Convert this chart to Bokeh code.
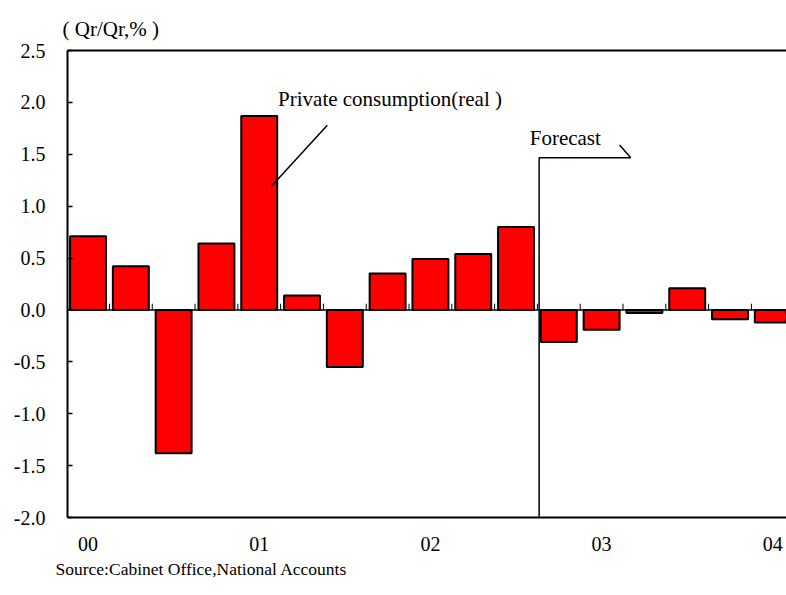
from bokeh.plotting import figure
from bokeh.models import Range1d, FixedTicker, LinearAxis, Span, Label, Title
from bokeh.embed import file_html
from bokeh.resources import INLINE

# Quarterly change in real private consumption (quarter on quarter, %)
quarters = list(range(17))
growth = [0.71, 0.42, -1.38, 0.64, 1.87, 0.14, -0.55, 0.35, 0.49, 0.54, 0.80,
          -0.31, -0.19, -0.03, 0.21, -0.09, -0.12]
year_ticks = [0, 4, 8, 12, 16]
year_labels = ["00", "01", "02", "03", "04"]
y_ticks = [-2.0, -1.5, -1.0, -0.5, 0.0, 0.5, 1.0, 1.5, 2.0, 2.5]

# Annotation geometry (data units)
series_leader_x = [5.59, 4.28]
series_leader_y = [1.78, 1.19]
forecast_x = [10.54, 10.54, 12.68, 12.42]
forecast_y = [-2.0, 1.467, 1.467, 1.59]

FONT = "Liberation Serif"
TICK_SIZE = "20px"

p = figure(width=786, height=595,
           x_range=Range1d(-0.48, 16.32), y_range=Range1d(-2.0, 2.5),
           x_axis_type=None, y_axis_type=None,
           output_backend="svg", toolbar_location=None,
           min_border_left=67, min_border_right=0,
           min_border_top=50, min_border_bottom=78)
p.grid.visible = False
p.outline_line_color = None
p.background_fill_color = "white"
p.border_fill_color = "white"

# Left value axis with short inward ticks
yaxis = LinearAxis(ticker=FixedTicker(ticks=y_ticks))
yaxis.major_label_overrides = {t: f"{t:.1f}" for t in y_ticks}
yaxis.major_tick_in = 5
yaxis.major_tick_out = 0
yaxis.minor_tick_line_color = None
yaxis.axis_line_width = 2
yaxis.major_tick_line_width = 1.5
yaxis.major_label_text_font = FONT
yaxis.major_label_text_font_size = TICK_SIZE
yaxis.major_label_text_color = "black"
yaxis.major_label_standoff = 22
p.add_layout(yaxis, "left")

# Bottom axis with year labels
xaxis = LinearAxis(ticker=FixedTicker(ticks=year_ticks))
xaxis.major_label_overrides = dict(zip(year_ticks, year_labels))
xaxis.major_tick_line_color = None
xaxis.minor_tick_line_color = None
xaxis.axis_line_width = 2
xaxis.major_label_text_font = FONT
xaxis.major_label_text_font_size = TICK_SIZE
xaxis.major_label_text_color = "black"
xaxis.major_label_standoff = 13
p.add_layout(xaxis, "below")

# Top frame line (bare axis, no ticks or labels)
top = LinearAxis(ticker=FixedTicker(ticks=[]))
top.major_tick_line_color = None
top.minor_tick_line_color = None
top.major_tick_in = 0
top.major_tick_out = 0
top.minor_tick_in = 0
top.minor_tick_out = 0
top.major_label_standoff = 0
top.major_label_text_font_size = "0px"
top.axis_line_width = 2
p.add_layout(top, "above")

# Unit note above the frame, source note below the axis
p.add_layout(Title(text="( Qr/Qr,% )", align="left", offset=-5, standoff=20,
                   text_font=FONT, text_font_size="21px", text_font_style="normal",
                   text_color="black"), "above")
p.add_layout(Title(text="Source:Cabinet Office,National Accounts", align="left",
                   offset=-12, standoff=7,
                   text_font=FONT, text_font_size="17.5px", text_font_style="normal",
                   text_color="black"), "below")

# Bars
p.vbar(x=quarters, top=growth, bottom=0, width=0.84,
       fill_color="#ff0000", line_color="black", line_width=2)

# Zero line with small category ticks between bars
p.add_layout(Span(location=0, dimension="width", line_color="black", line_width=1.5))
boundaries = [q + 0.5 for q in quarters[:-1]]
p.segment(x0=boundaries, y0=[0] * len(boundaries), x1=boundaries, y1=[0.06] * len(boundaries),
          line_color="black", line_width=1)

# Series label with leader line
p.line(series_leader_x, series_leader_y, line_color="black", line_width=1.5)
p.add_layout(Label(x=4.44, y=2.03, text="Private consumption(real )",
                   text_font=FONT, text_font_size="21px", text_color="black",
                   text_baseline="middle", text_align="left"))

# Forecast bracket
p.line(forecast_x, forecast_y, line_color="black", line_width=1.5)
p.add_layout(Label(x=10.32, y=1.66, text="Forecast",
                   text_font=FONT, text_font_size="21px", text_color="black",
                   text_baseline="middle", text_align="left"))

open("out.html", "w").write(file_html(p, INLINE))
